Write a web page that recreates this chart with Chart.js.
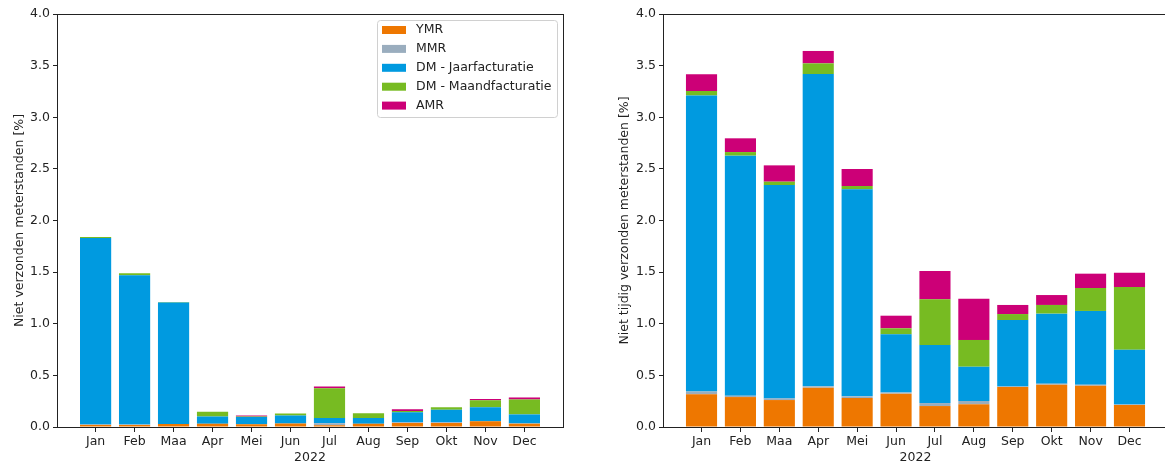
<!DOCTYPE html>
<html>
<head>
<meta charset="utf-8">
<script src="https://cdn.jsdelivr.net/npm/chart.js@4.4.1/dist/chart.umd.min.js"></script>
<style>
  body { margin: 0; background: #fff; overflow: hidden; }
  .wrap { position: absolute; top: 0; height: 466px; }
</style>
</head>
<body>
<div class="wrap" style="left:0;width:575px"><canvas id="left"></canvas></div>
<div class="wrap" style="left:575px;width:595px"><canvas id="right"></canvas></div>
<script>
const months = ['Jan', 'Feb', 'Maa', 'Apr', 'Mei', 'Jun', 'Jul', 'Aug', 'Sep', 'Okt', 'Nov', 'Dec'];
const seriesNames = ['YMR', 'MMR', 'DM - Jaarfacturatie', 'DM - Maandfacturatie', 'AMR'];
const seriesColors = ['#ee7700', '#9aadbe', '#009ae0', '#77bb22', '#cc0077'];
const yearLabel = '2022';
const yTicks = [0, 0.5, 1, 1.5, 2, 2.5, 3, 3.5, 4];

// left: niet verzonden
const ymrLeft  = [0.02, 0.02, 0.03, 0.032, 0.026, 0.035, 0.016, 0.032, 0.039, 0.039, 0.055, 0.032];
const mmrLeft  = [0.005, 0.005, 0.0, 0.0, 0.0, 0.0, 0.02, 0.0, 0.006, 0.006, 0.0, 0.003];
const djLeft   = [1.805, 1.445, 1.175, 0.07, 0.07, 0.077, 0.05, 0.055, 0.097, 0.123, 0.136, 0.087];
const dmLeft   = [0.01, 0.02, 0.005, 0.045, 0.006, 0.019, 0.29, 0.045, 0.013, 0.023, 0.068, 0.145];
const amrLeft  = [0.0, 0.0, 0.0, 0.0, 0.01, 0.0, 0.016, 0.0, 0.016, 0.0, 0.013, 0.019];

// right: niet tijdig verzonden
const ymrRight = [0.316, 0.29, 0.261, 0.381, 0.281, 0.323, 0.203, 0.22, 0.387, 0.41, 0.4, 0.213];
const mmrRight = [0.029, 0.013, 0.016, 0.013, 0.016, 0.01, 0.029, 0.032, 0.006, 0.01, 0.01, 0.006];
const djRight  = [2.865, 2.325, 2.067, 3.025, 2.005, 0.565, 0.562, 0.332, 0.643, 0.678, 0.714, 0.53];
const dmRight  = [0.044, 0.035, 0.032, 0.103, 0.032, 0.058, 0.443, 0.259, 0.058, 0.084, 0.222, 0.607];
const amrRight = [0.162, 0.133, 0.158, 0.12, 0.165, 0.122, 0.274, 0.4, 0.088, 0.096, 0.139, 0.138];

const FONT = 'DejaVu Sans';
const FS = 12.5;
const INK = '#222';

function makeSets(cols) {
  return cols.map((vals, k) => ({
    label: seriesNames[k],
    data: vals.map((v, i) => ({ x: i, y: v })),
    backgroundColor: seriesColors[k],
    borderWidth: 0,
    barPercentage: 0.8,
    categoryPercentage: 1
  }));
}

const frame = {
  id: 'frame',
  afterDraw(chart) {
    const { ctx, chartArea: a } = chart;
    ctx.save();
    ctx.strokeStyle = INK;
    ctx.lineWidth = 1;
    ctx.strokeRect(Math.round(a.left) + 0.5, Math.round(a.top) + 0.5,
      Math.round(a.right - a.left), Math.round(a.bottom - a.top));
    ctx.restore();
  }
};

const boxLegend = {
  id: 'boxLegend',
  afterDraw(chart) {
    const ctx = chart.ctx;
    const a = chart.chartArea;
    const x0 = a.right - 186, y0 = a.top + 6, w = 180, h = 97;
    ctx.save();
    ctx.fillStyle = 'rgba(255,255,255,0.8)';
    ctx.strokeStyle = '#d0d0d0';
    ctx.lineWidth = 1;
    ctx.beginPath();
    ctx.roundRect(x0 + 0.5, y0 + 0.5, w, h, 3);
    ctx.fill();
    ctx.stroke();
    ctx.font = FS + 'px ' + FONT;
    ctx.textBaseline = 'middle';
    chart.data.datasets.forEach((ds, i) => {
      const cy = y0 + 10 + i * 18.9;
      ctx.fillStyle = ds.backgroundColor;
      ctx.fillRect(x0 + 5, cy - 4, 24, 8);
      ctx.fillStyle = INK;
      ctx.fillText(ds.label, x0 + 39, cy);
    });
    ctx.restore();
  }
};

function makeChart(id, cols, yTitle, axisW, pad, extra) {
  return new Chart(document.getElementById(id), {
    type: 'bar',
    data: { datasets: makeSets(cols) },
    plugins: [frame].concat(extra),
    options: {
      responsive: true,
      maintainAspectRatio: false,
      animation: false,
      layout: { padding: pad },
      plugins: { legend: { display: false }, tooltip: { enabled: false } },
      scales: {
        x: {
          type: 'linear',
          stacked: true,
          offset: false,
          min: -0.99,
          max: 11.99,
          afterBuildTicks: (s) => { s.ticks = months.map((m, i) => ({ value: i })); },
          afterFit: (s) => { s.height = 39; },
          border: { display: false },
          grid: { offset: false, drawOnChartArea: false, drawTicks: true, tickLength: 5, color: INK },
          ticks: {
            color: INK, font: { family: FONT, size: FS }, padding: 2,
            maxRotation: 0, autoSkip: false,
            callback: (v) => months[v]
          },
          title: {
            display: true, text: yearLabel, color: INK,
            font: { family: FONT, size: FS }, padding: { top: 0, bottom: 1 }
          }
        },
        y: {
          stacked: true,
          min: 0,
          max: 4,
          afterBuildTicks: (s) => { s.ticks = yTicks.map((v) => ({ value: v })); },
          afterFit: (s) => { s.width = axisW; },
          border: { display: false },
          grid: { drawOnChartArea: false, drawTicks: true, tickLength: 4, color: INK },
          ticks: {
            color: INK, font: { family: FONT, size: FS }, padding: 3,
            callback: (v) => v.toFixed(1)
          },
          title: {
            display: true, text: yTitle, color: INK,
            font: { family: FONT, size: FS }, padding: { top: 2, bottom: 0 }
          }
        }
      }
    }
  });
}

makeChart('left', [ymrLeft, mmrLeft, djLeft, dmLeft, amrLeft],
  'Niet verzonden meterstanden [%]', 47, { left: 10, right: 12, top: 14, bottom: 0 }, [boxLegend]);
makeChart('right', [ymrRight, mmrRight, djRight, dmRight, amrRight],
  'Niet tijdig verzonden meterstanden [%]', 48, { left: 40, right: 2, top: 14, bottom: 0 }, []);
</script>
</body>
</html>
